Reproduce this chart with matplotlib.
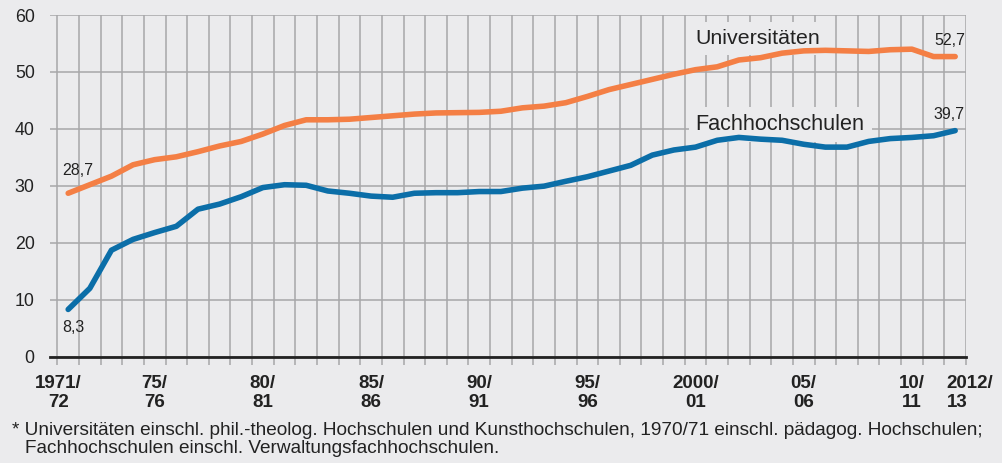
import matplotlib
matplotlib.use('Agg')
import matplotlib.pyplot as plt
import numpy as np

# academic years 1971/72 ... 2012/13
years = ['%d/%02d' % (y, (y + 1) % 100) for y in range(1971, 2013)]

# Anteil (%) je Hochschulart
universitaeten = [28.7, 30.2, 31.7, 33.7, 34.6, 35.1, 36.0, 37.0, 37.8, 39.1,
                  40.6, 41.6, 41.6, 41.7, 42.0, 42.3, 42.6, 42.8, 42.85, 42.9,
                  43.1, 43.7, 44.0, 44.6, 45.7, 46.9, 47.8, 48.7, 49.6, 50.4,
                  50.9, 52.1, 52.5, 53.3, 53.7, 53.8, 53.7, 53.6, 53.9, 54.0,
                  52.7, 52.7]
fachhochschulen = [8.3, 12.0, 18.7, 20.6, 21.8, 22.9, 25.9, 26.8, 28.1, 29.7,
                   30.2, 30.1, 29.1, 28.7, 28.2, 28.0, 28.7, 28.8, 28.8, 29.0,
                   29.0, 29.6, 29.95, 30.8, 31.6, 32.6, 33.6, 35.4, 36.3, 36.8,
                   38.0, 38.5, 38.2, 38.0, 37.3, 36.8, 36.8, 37.8, 38.3, 38.5,
                   38.8, 39.7]

tick_years = ['1971/72', '1975/76', '1980/81', '1985/86', '1990/91',
              '1995/96', '2000/01', '2005/06', '2010/11', '2012/13']
tick_labels = ['1971/\n72', '75/\n76', '80/\n81', '85/\n86', '90/\n91',
               '95/\n96', '2000/\n01', '05/\n06', '10/\n11', '2012/\n13']

footnote_lines = ['* Universitäten einschl. phil.-theolog. Hochschulen und Kunsthochschulen, '
                  '1970/71 einschl. pädagog. Hochschulen;',
                  'Fachhochschulen einschl. Verwaltungsfachhochschulen.']

bg = '#ebebed'
gridc = '#a7a7a9'
orange = '#f47f45'
blue = '#0b6ea8'
txt = '#222222'
regular = ['Liberation Sans', 'DejaVu Sans']
narrow = ['Liberation Sans Narrow', 'Liberation Sans', 'DejaVu Sans']

fig = plt.figure(figsize=(10.02, 4.63), dpi=100, facecolor=bg)
ax = fig.add_axes([50 / 1002, 1 - 356.7 / 463, 916 / 1002, (356.7 - 15) / 463])
ax.set_facecolor(bg)

x = np.arange(len(years))
ax.set_xlim(-0.84, len(years) - 0.5)
ax.set_ylim(0, 60)

# grid: vertical lines between the years, horizontal every 10
for b in np.arange(len(years) + 1) - 0.5:
    ax.plot([b, b], [0, 60], color=gridc, lw=1.1, zorder=1)
ax.set_yticks(range(0, 61, 10))
ax.yaxis.grid(True, color=gridc, lw=1.1, zorder=1)
ax.set_axisbelow(True)
ax.set_xticks(np.arange(len(years) + 1) - 0.5)
ax.set_xticklabels([])
ax.tick_params(axis='x', length=5.5, width=1.1, color=gridc, direction='out')
ax.tick_params(axis='y', length=0, pad=11)
for lab in ax.get_yticklabels():
    lab.set_family(regular)
    lab.set_fontsize(12.8)
    lab.set_color(txt)
for s in ['top', 'right', 'left']:
    ax.spines[s].set_visible(False)
ax.spines['bottom'].set_color(txt)
ax.spines['bottom'].set_linewidth(2)
ax.spines['bottom'].set_zorder(4)

ax.plot(x, universitaeten, color=orange, lw=4, solid_capstyle='round', zorder=3)
ax.plot(x, fachhochschulen, color=blue, lw=4, solid_capstyle='round', zorder=3)

# year labels below the axis
for ty, tl in zip(tick_years, tick_labels):
    i = years.index(ty)
    ha, dx = 'center', 0
    if i == 0:
        dx = -7
    if i == len(years) - 1:
        ha, dx = 'left', -6
    ax.annotate(tl, (i, 0), xytext=(dx, -13), textcoords='offset points',
                ha=ha, va='top', fontsize=13.5, fontweight='bold',
                family=narrow, color=txt, linespacing=1.15,
                annotation_clip=False)

# series names
ax.text(29.0, 54.9, 'Universitäten', fontsize=15.4, family=regular, color=txt,
        va='baseline', zorder=2,
        bbox=dict(facecolor=bg, edgecolor='none', pad=5))
ax.text(29.0, 39.8, 'Fachhochschulen', fontsize=15.6, family=regular, color=txt,
        va='baseline', zorder=2,
        bbox=dict(facecolor=bg, edgecolor='none', pad=5))

# first / last values
def fmt(v):
    return ('%.1f' % v).replace('.', ',')

ax.annotate(fmt(universitaeten[0]), (0, universitaeten[0]), xytext=(-4, 13),
            textcoords='offset points', ha='left', va='baseline',
            fontsize=11.5, family=regular, color=txt)
ax.annotate(fmt(fachhochschulen[0]), (0, fachhochschulen[0]), xytext=(-4, -16),
            textcoords='offset points', ha='left', va='baseline',
            fontsize=11.5, family=regular, color=txt)
ax.annotate(fmt(universitaeten[-1]), (len(years) - 1, universitaeten[-1]), xytext=(7, 8),
            textcoords='offset points', ha='right', va='baseline',
            fontsize=11.5, family=regular, color=txt)
ax.annotate(fmt(fachhochschulen[-1]), (len(years) - 1, fachhochschulen[-1]), xytext=(7, 8),
            textcoords='offset points', ha='right', va='baseline',
            fontsize=11.5, family=regular, color=txt)

fig.text(12 / 1002, 1 - 435 / 463, footnote_lines[0], fontsize=13.65, family=regular,
         color=txt, va='baseline')
fig.text(25 / 1002, 1 - 453 / 463, footnote_lines[1], fontsize=13.65, family=regular,
         color=txt, va='baseline')

fig.savefig('out.png', dpi=100, facecolor=bg)
